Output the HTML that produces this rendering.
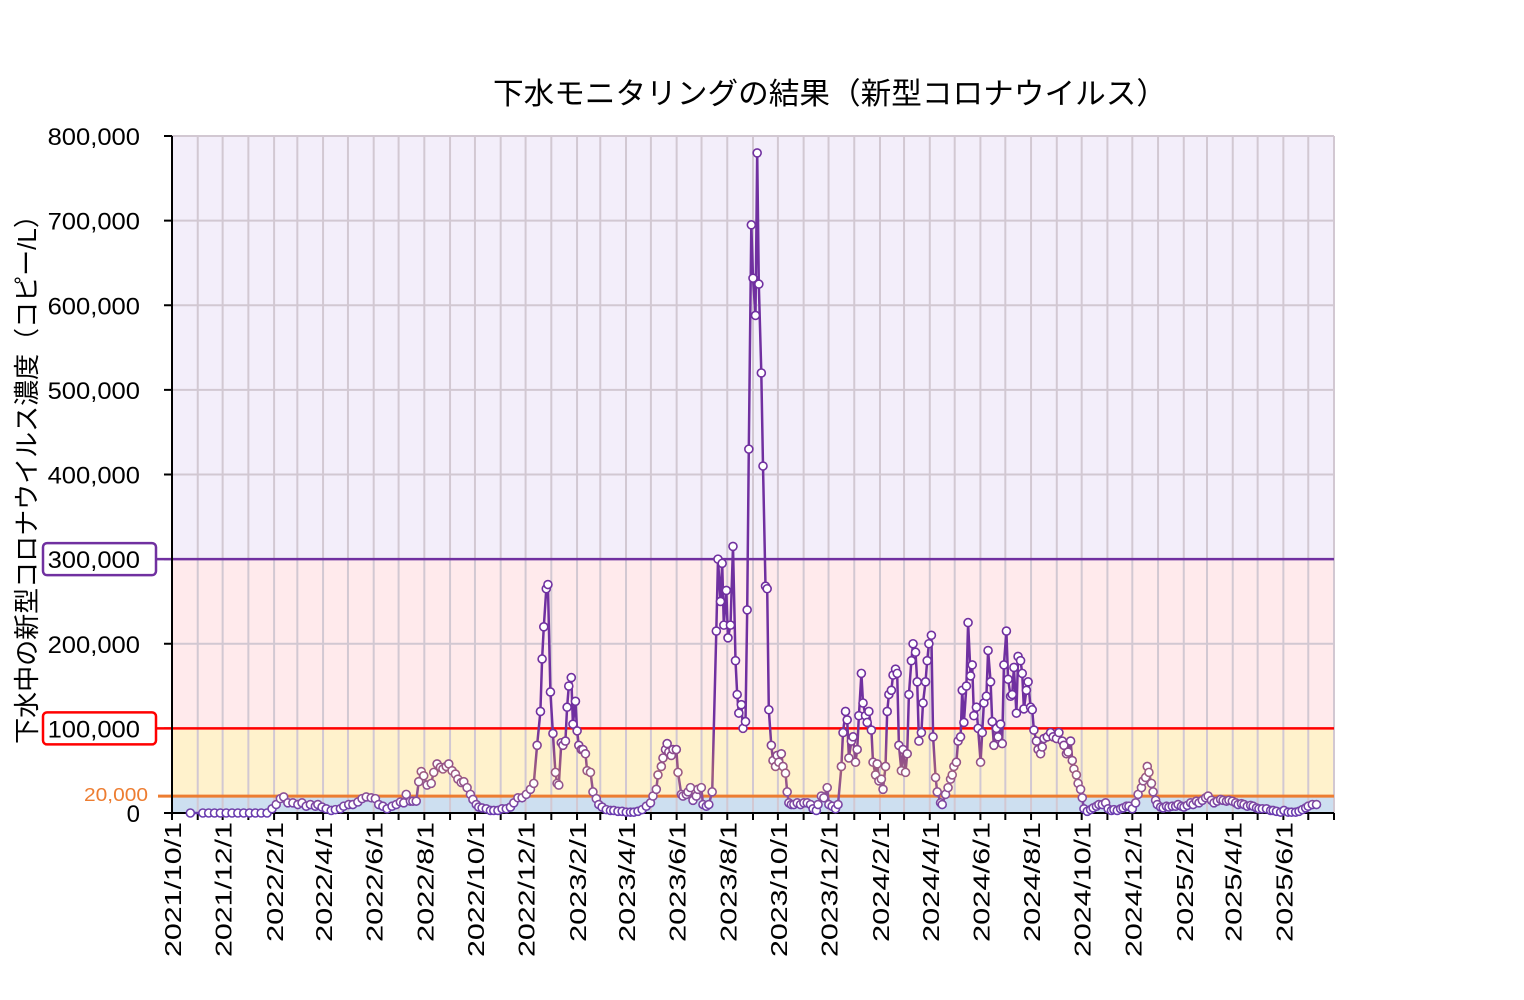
<!DOCTYPE html>
<html><head><meta charset="utf-8"><style>
body{margin:0;background:#fff;}
svg text{font-family:"Liberation Sans","Noto Sans CJK JP",sans-serif;}
</style></head><body>
<svg id="chart" width="1524" height="995" xmlns="http://www.w3.org/2000/svg">
<defs>
<linearGradient id="lg" gradientUnits="userSpaceOnUse" x1="0" y1="136" x2="0" y2="813">
<stop offset="0" stop-color="#7030a0"/>
<stop offset="0.87" stop-color="#7030a0"/>
<stop offset="0.94" stop-color="#9e5c80"/>
<stop offset="0.975" stop-color="#8a4f98"/>
<stop offset="1" stop-color="#6a3cb0"/>
</linearGradient>
</defs>
<text x="493" y="104" font-size="30" textLength="674" lengthAdjust="spacingAndGlyphs">下水モニタリングの結果（新型コロナウイルス）</text>
<text transform="translate(36,473) rotate(-90)" font-size="26" text-anchor="middle">下水中の新型コロナウイルス濃度（コピー/L）</text>
<g id="bands"></g><g id="grid"></g><g id="axes"></g><g id="series"></g>
</svg>
<script>
const days=[22,37,44,51,58,65,72,79,86,93,100,107,114,120,125,130,134,139,145,151,156,161,166,172,175,180,185,191,196,202,206,212,217,223,228,233,239,244,248,253,258,264,269,274,278,281,286,289,293,296,299,302,306,311,314,318,322,325,329,332,336,340,343,347,350,354,358,361,365,368,372,377,382,386,391,396,401,406,410,415,420,425,430,434,438,442,444,446,449,451,454,457,460,462,464,467,469,472,474,476,479,481,484,486,488,491,493,496,498,502,505,509,512,516,521,526,530,535,540,545,550,554,559,564,569,574,577,581,583,587,589,592,594,596,599,601,605,607,611,613,617,619,622,625,629,631,635,637,641,644,648,653,655,658,660,662,665,667,670,673,676,678,680,683,685,688,690,692,695,697,700,702,704,707,709,712,714,716,719,721,724,726,728,731,733,736,738,740,743,746,750,754,758,762,766,769,773,775,779,782,786,788,792,796,799,803,805,808,810,812,815,817,820,822,824,827,829,832,834,836,839,841,844,846,848,851,853,856,858,860,863,865,868,870,872,875,877,880,882,884,887,889,892,894,896,899,901,904,906,908,911,913,916,918,922,924,928,931,934,936,938,941,943,946,948,950,953,955,958,960,962,965,967,970,972,974,977,979,982,984,986,989,991,994,996,998,1001,1003,1006,1008,1010,1013,1015,1018,1020,1022,1025,1027,1030,1032,1034,1037,1039,1042,1044,1046,1050,1054,1057,1061,1064,1068,1070,1073,1075,1078,1080,1082,1085,1087,1090,1092,1094,1098,1102,1105,1109,1112,1116,1120,1123,1127,1130,1134,1138,1141,1145,1148,1152,1156,1159,1163,1165,1168,1170,1172,1175,1177,1180,1182,1186,1189,1193,1196,1200,1204,1207,1211,1214,1218,1222,1225,1229,1232,1236,1240,1243,1247,1250,1254,1258,1261,1265,1268,1272,1276,1279,1283,1286,1290,1294,1297,1301,1304,1308,1313,1318,1321,1325,1330,1334,1339,1343,1348,1352,1356,1360,1363,1368,1373];
const valuesK=[0,0,0,0,0,0,0,0,0,0,0,0,0,5,10,17,19,12,12,10,12,8,10,8,10,7,5,3,4,5,8,10,10,13,17,19,18,17,10,8,5,8,10,13,12,22,14,14,14,37,49,44,33,35,48,58,54,52,55,58,50,46,40,36,37,30,22,16,10,7,6,5,3,3,3,5,5,7,12,18,18,22,28,35,80,120,182,220,265,270,143,94,48,35,33,83,80,85,125,150,160,105,132,97,80,75,75,70,50,48,25,17,10,7,4,3,3,2,2,1,1,1,2,4,8,12,20,28,45,55,65,75,82,72,68,75,75,48,22,20,22,25,30,15,20,28,30,10,8,10,25,215,300,250,295,222,263,207,222,315,180,140,118,128,100,108,240,430,695,632,588,780,625,520,410,268,265,122,80,62,55,68,60,70,55,47,25,12,10,10,12,10,12,12,10,5,3,10,20,18,30,10,8,5,10,55,95,120,110,65,85,90,60,75,115,165,130,115,107,120,98,60,45,58,38,40,28,55,120,140,145,163,170,165,80,50,75,48,70,140,180,200,190,155,85,95,130,155,180,200,210,90,42,25,12,10,22,30,40,45,55,60,85,90,145,107,150,225,162,175,115,125,100,60,95,130,138,192,155,108,80,100,90,105,82,175,215,158,138,140,172,118,185,180,165,123,145,155,125,122,98,85,75,70,78,88,90,95,90,88,95,85,80,70,72,85,62,52,45,35,28,18,5,2,4,6,8,10,10,12,5,3,4,3,5,6,8,8,5,12,22,30,38,42,55,48,35,25,15,10,7,6,8,7,8,8,10,8,7,9,12,10,14,12,15,18,20,15,12,14,16,15,14,15,14,12,10,11,10,8,9,8,6,5,5,5,3,3,2,1,3,1,1,1,2,4,6,8,10,10];
const yTicks=[0,100000,200000,300000,400000,500000,600000,700000,800000];
const yTickLabels=["0","100,000","200,000","300,000","400,000","500,000","600,000","700,000","800,000"];
const bandEdges=[0,20000,100000,300000,800000];
const bandColors=["#cddff0","#fff2cc","#ffeaec","#f3eefa"];
const monthLabels=["2021/10/1","2021/12/1","2022/2/1","2022/4/1","2022/6/1","2022/8/1","2022/10/1","2022/12/1","2023/2/1","2023/4/1","2023/6/1","2023/8/1","2023/10/1","2023/12/1","2024/2/1","2024/4/1","2024/6/1","2024/8/1","2024/10/1","2024/12/1","2025/2/1","2025/4/1","2025/6/1"];

const NS="http://www.w3.org/2000/svg";
const X0=172,X1=1334,Y0=813,Y1=136,DMAX=1394,VMAX=800000;
const scale=DMAX/1400;
function xs(d){return X0+(d/DMAX)*(X1-X0);}
function ys(v){return Y0-(v/VMAX)*(Y0-Y1);}
function mk(tag,attrs,parent){const e=document.createElementNS(NS,tag);for(const k in attrs)e.setAttribute(k,attrs[k]);parent.appendChild(e);return e;}
const bands=document.getElementById('bands'),grid=document.getElementById('grid'),axes=document.getElementById('axes'),series=document.getElementById('series');
for(let i=0;i<bandColors.length;i++){
 const r=mk('rect',{x:X0,y:ys(bandEdges[i+1]),width:X1-X0,height:ys(bandEdges[i])-ys(bandEdges[i+1]),fill:bandColors[i]},bands);
 
 
}
const start=new Date(2021,9,1);
const monthDays=[];
for(let m=0;m<=46;m++){const dt=new Date(2021,9+m,1);monthDays.push(Math.round((dt-start)/86400000)*scale);}
monthDays.forEach((d,i)=>{
 const x=xs(d); if(x>X1+1)return;
 const l=mk('line',{x1:x,x2:x,y1:Y1,y2:Y0,stroke:'#d2c8d2','stroke-width':2},grid);
 
 
 const t=mk('line',{x1:x,x2:x,y1:Y0,y2:Y0+7,stroke:'#000','stroke-width':2},axes);
 
 
});
mk('line',{x1:X1,x2:X1,y1:Y1,y2:Y0,stroke:'#d2c8d2','stroke-width':2},grid);
yTicks.forEach((v,i)=>{
 const y=ys(v);
 if(v>0){const g=mk('line',{x1:X0,x2:X1,y1:y,y2:y,stroke:'#d2c8d2','stroke-width':2},grid);
 
 }
 const t=mk('line',{x1:X0-8,x2:X0,y1:y,y2:y,stroke:'#000','stroke-width':2},axes);
 
 
 const lab=yTickLabels[i];
 const attrs={x:140,y:y+9,'font-size':24,'text-anchor':'end'};
 if(lab.length>1){attrs.textLength=lab.length*13.2;attrs.lengthAdjust='spacingAndGlyphs';}
 const tx=mk('text',attrs,axes);
 tx.textContent=lab;
 
 
});
function thr(v,color,w,name,box){
 const y=ys(v);
 const l=mk('line',{x1:box?157:158,x2:X1,y1:y,y2:y,stroke:color,'stroke-width':w},axes);
 
 
 if(box){const r=mk('rect',{x:43,y:y-16,width:113,height:32,rx:4,fill:'none',stroke:color,'stroke-width':2.5},axes);
 
 }
}
thr(20000,'#ed7d31',3,'threshold-20000',false);
thr(100000,'#ff0000',2.5,'threshold-100000',true);
thr(300000,'#7030a0',2.5,'threshold-300000',true);
const t20=mk('text',{x:148,y:ys(20000)+5,'font-size':18,'text-anchor':'end',fill:'#ed7d31',textLength:64,lengthAdjust:'spacingAndGlyphs'},axes);
t20.textContent='20,000';


mk('line',{x1:X0,x2:X0,y1:Y1,y2:Y0,stroke:'#000','stroke-width':2},axes);
mk('line',{x1:X0-8,x2:X1,y1:Y0,y2:Y0,stroke:'#000','stroke-width':2},axes);
monthLabels.forEach((lab,i)=>{
 const x=xs(monthDays[i*2]);
 const t=mk('text',{transform:`translate(${x+9},822) rotate(-90)`,'font-size':23,'text-anchor':'end',textLength:lab.length*15,lengthAdjust:'spacingAndGlyphs'},axes);
 t.textContent=lab;
 
 
});
let dstr='';
days.forEach((d,i)=>{dstr+=(i?'L':'M')+xs(d).toFixed(1)+','+ys(valuesK[i]*1000).toFixed(1);});
const p=mk('path',{d:dstr,fill:'none',stroke:'url(#lg)','stroke-width':2.5,'stroke-linejoin':'round'},series);


days.forEach((d,i)=>{
 const c=mk('circle',{cx:xs(d),cy:ys(valuesK[i]*1000),r:4,fill:'#fff',stroke:'url(#lg)','stroke-width':1.6},series);
 
 
});
</script>
</body></html>
